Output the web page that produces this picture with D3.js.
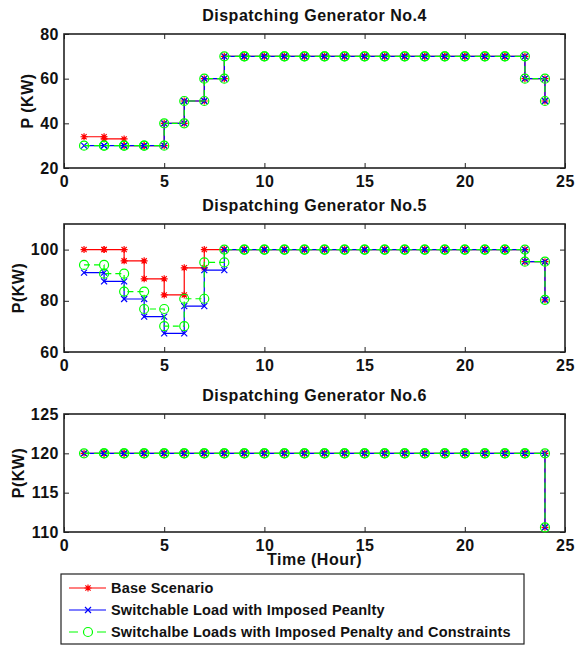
<!DOCTYPE html>
<html>
<head>
<meta charset="utf-8">
<script src="https://cdn.jsdelivr.net/npm/d3@7"></script>
<style>
  body { margin: 0; background: #fff; }
  svg { display: block; font-family: "Liberation Sans", Arial, sans-serif; font-weight: bold; }
</style>
</head>
<body>
<script>
// hours 1..24
const hours = [1, 2, 3, 4, 5, 6, 7, 8, 9, 10, 11, 12, 13, 14, 15, 16, 17, 18, 19, 20, 21, 22, 23, 24];

// Generator No.4
const gen4Base = [34, 33, 30, 30, 40, 50, 60, 70, 70, 70, 70, 70, 70, 70, 70, 70, 70, 70, 70, 70, 70, 70, 60, 50];
const gen4Penalty = [30, 30, 30, 30, 40, 50, 60, 70, 70, 70, 70, 70, 70, 70, 70, 70, 70, 70, 70, 70, 70, 70, 60, 50];
const gen4Constr = [30, 30, 30, 30, 40, 50, 60, 70, 70, 70, 70, 70, 70, 70, 70, 70, 70, 70, 70, 70, 70, 70, 60, 50];

// Generator No.5
const gen5Base = [100, 100, 95.6, 88.6, 82.3, 92.9, 100, 100, 100, 100, 100, 100, 100, 100, 100, 100, 100, 100, 100, 100, 100, 100, 95.3, 80.4];
const gen5Penalty = [91, 87.6, 80.7, 73.8, 67.3, 77.9, 92, 100, 100, 100, 100, 100, 100, 100, 100, 100, 100, 100, 100, 100, 100, 100, 95.3, 80.4];
const gen5Constr = [94, 90.6, 83.6, 76.8, 70.1, 80.8, 95, 100, 100, 100, 100, 100, 100, 100, 100, 100, 100, 100, 100, 100, 100, 100, 95.3, 80.4];

// Generator No.6
const gen6Base = [120, 120, 120, 120, 120, 120, 120, 120, 120, 120, 120, 120, 120, 120, 120, 120, 120, 120, 120, 120, 120, 120, 120, 110.6];
const gen6Penalty = [120, 120, 120, 120, 120, 120, 120, 120, 120, 120, 120, 120, 120, 120, 120, 120, 120, 120, 120, 120, 120, 120, 120, 110.6];
const gen6Constr = [120, 120, 120, 120, 120, 120, 120, 120, 120, 120, 120, 120, 120, 120, 120, 120, 120, 120, 120, 120, 120, 120, 120, 110.6];

const xTicks = [0, 5, 10, 15, 20, 25];
const titles = ["Dispatching Generator No.4", "Dispatching Generator No.5", "Dispatching Generator No.6"];
const yLabels = ["P (KW)", "P(KW)", "P(KW)"];
const yDomains = [[20, 80], [60, 110], [110, 125]];
const yTicks = [[20, 40, 60, 80], [60, 80, 100], [110, 115, 120, 125]];
const legendNames = ["Base Scenario", "Switchable Load with Imposed Peanlty", "Switchalbe Loads with Imposed Penalty and Constraints"];

const panelData = [
  [gen4Base, gen4Penalty, gen4Constr],
  [gen5Base, gen5Penalty, gen5Constr],
  [gen6Base, gen6Penalty, gen6Constr]
];

const styles = [
  {color: "#ff0000", marker: "star", dash: null, legendDash: null},
  {color: "#0000ff", marker: "x", dash: null, legendDash: null},
  {color: "#00ff00", marker: "circle", dash: "6,4", legendDash: "9,19"}
];

const width = 577, height = 646;
const left = 64, right = 565;
const panels = [
  {top: 34, bottom: 168, labelX: 33},
  {top: 224, bottom: 352, labelX: 24},
  {top: 414, bottom: 532, labelX: 24}
];

const svg = d3.select("body").append("svg")
  .attr("width", width)
  .attr("height", height);

const x = d3.scaleLinear().domain([0, 25]).range([left, right]);

// staircase vertices, marker on every corner
const stairs = vals => {
  let pts = [];
  vals.forEach((v, i) => {
    if (i > 0) pts.push([hours[i], vals[i - 1]]);
    pts.push([hours[i], v]);
  });
  return pts;
};

const drawMarker = (g, type, cx, cy, color) => {
  if (type == "star") {
    let s = 3.5, d = 2.6;
    g.append("path")
      .attr("d", `M${cx - s},${cy}L${cx + s},${cy}M${cx},${cy - s}L${cx},${cy + s}M${cx - d},${cy - d}L${cx + d},${cy + d}M${cx - d},${cy + d}L${cx + d},${cy - d}`)
      .attr("stroke", color).attr("stroke-width", 1.2).attr("fill", "none");
  } else if (type == "x") {
    let d = 3;
    g.append("path")
      .attr("d", `M${cx - d},${cy - d}L${cx + d},${cy + d}M${cx - d},${cy + d}L${cx + d},${cy - d}`)
      .attr("stroke", color).attr("stroke-width", 1.2).attr("fill", "none");
  } else {
    g.append("circle")
      .attr("cx", cx).attr("cy", cy).attr("r", 4.5)
      .attr("stroke", color).attr("stroke-width", 1.2).attr("fill", "none");
  }
};

panels.forEach((p, pi) => {
  let y = d3.scaleLinear().domain(yDomains[pi]).range([p.bottom, p.top]);
  let g = svg.append("g");

  // axes with inward ticks (matlab style)
  g.append("g")
    .attr("transform", `translate(0,${p.bottom})`)
    .call(d3.axisBottom(x).tickValues(xTicks).tickSize(-5).tickPadding(8).tickFormat(d3.format("d")))
    .call(a => a.select(".domain").remove());
  g.append("g")
    .attr("transform", `translate(0,${p.top})`)
    .call(d3.axisTop(x).tickValues(xTicks).tickSize(-5).tickFormat(""))
    .call(a => a.select(".domain").remove());
  g.append("g")
    .attr("transform", `translate(${left},0)`)
    .call(d3.axisLeft(y).tickValues(yTicks[pi]).tickSize(-5).tickPadding(5))
    .call(a => a.select(".domain").remove());
  g.append("g")
    .attr("transform", `translate(${right},0)`)
    .call(d3.axisRight(y).tickValues(yTicks[pi]).tickSize(-5).tickFormat(""))
    .call(a => a.select(".domain").remove());

  g.selectAll(".tick line").attr("stroke", "#222").attr("stroke-width", 1);
  g.selectAll(".tick text")
    .attr("fill", "#111")
    .style("font-size", "16px")
    .style("letter-spacing", "0.5px")
    .style("font-weight", "bold")
    .style("font-family", '"Liberation Sans", Arial, sans-serif');

  g.append("rect")
    .attr("x", left).attr("y", p.top)
    .attr("width", right - left).attr("height", p.bottom - p.top)
    .attr("fill", "none").attr("stroke", "#222").attr("stroke-width", 1.6);

  g.append("text")
    .attr("x", (left + right) / 2)
    .attr("y", p.top - 13)
    .attr("text-anchor", "middle")
    .style("font-size", "16px")
    .style("letter-spacing", "0.5px")
    .attr("fill", "#111")
    .text(titles[pi]);

  g.append("text")
    .attr("transform", `translate(${p.labelX},${(p.top + p.bottom) / 2}) rotate(-90)`)
    .attr("text-anchor", "middle")
    .style("font-size", "16px")
    .style("letter-spacing", "0.5px")
    .attr("fill", "#111")
    .text(yLabels[pi]);

  let line = d3.line().x(d => x(d[0])).y(d => y(d[1]));

  panelData[pi].forEach((vals, si) => {
    let st = styles[si];
    let pts = stairs(vals);
    g.append("path")
      .datum(pts)
      .attr("d", line)
      .attr("fill", "none")
      .attr("stroke", st.color)
      .attr("stroke-width", 1.2)
      .attr("stroke-dasharray", st.dash);
    let mg = g.append("g");
    pts.forEach(d => drawMarker(mg, st.marker, x(d[0]), y(d[1]), st.color));
  });
});

svg.append("text")
  .attr("x", (left + right) / 2)
  .attr("y", 565)
  .attr("text-anchor", "middle")
  .style("font-size", "16px")
  .style("letter-spacing", "0.5px")
  .attr("fill", "#111")
  .text("Time (Hour)");

// legend
let lg = svg.append("g");
lg.append("rect")
  .attr("x", 61).attr("y", 574)
  .attr("width", 463).attr("height", 70)
  .attr("fill", "#fff").attr("stroke", "#222").attr("stroke-width", 1.2);

legendNames.forEach((name, i) => {
  let st = styles[i];
  let ly = 588 + i * 22;
  lg.append("line")
    .attr("x1", 69).attr("x2", 106)
    .attr("y1", ly).attr("y2", ly)
    .attr("stroke", st.color).attr("stroke-width", 1.2)
    .attr("stroke-dasharray", st.legendDash);
  drawMarker(lg, st.marker, 88, ly, st.color);
  lg.append("text")
    .attr("x", 111).attr("y", ly + 5)
    .style("font-size", "14.5px")
    .style("letter-spacing", "0.2px")
    .attr("fill", "#111")
    .text(name);
});
</script>
</body>
</html>
